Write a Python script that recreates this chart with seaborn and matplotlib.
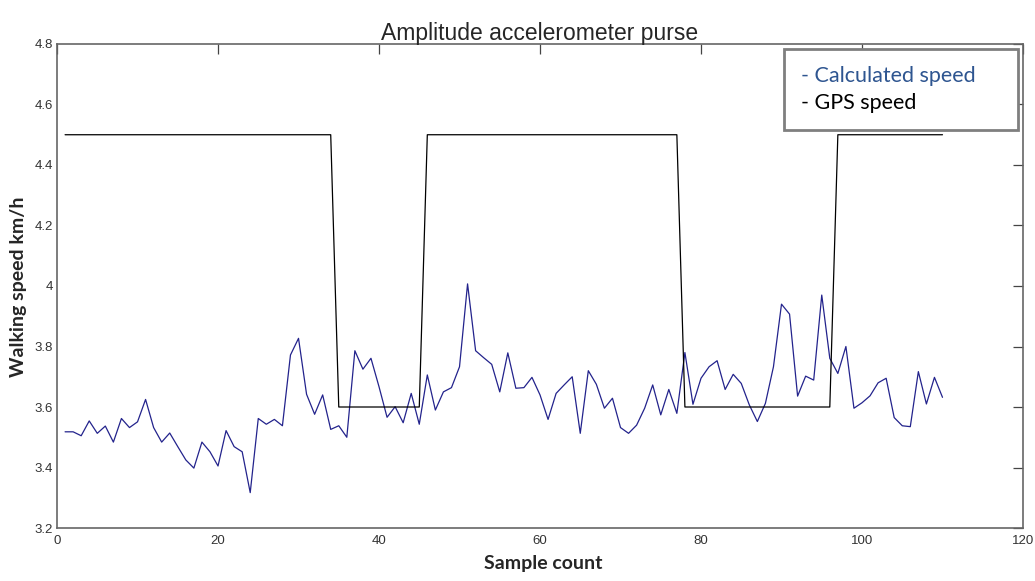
import pandas as pd
import matplotlib
matplotlib.use("Agg")
import matplotlib.pyplot as plt
import seaborn as sns

# samples 1..110, speed estimated from the accelerometer in the purse
sample = list(range(1, 111))
calculated_speed = [
    3.518, 3.518, 3.505, 3.554, 3.513, 3.537, 3.484, 3.562, 3.532, 3.551,
    3.625, 3.532, 3.484, 3.514, 3.469, 3.425, 3.398, 3.484, 3.452, 3.405,
    3.522, 3.469, 3.452, 3.317, 3.562, 3.543, 3.559, 3.538, 3.772, 3.827,
    3.642, 3.576, 3.640, 3.526, 3.538, 3.500, 3.786, 3.725, 3.761, 3.667,
    3.566, 3.601, 3.548, 3.645, 3.543, 3.706, 3.590, 3.650, 3.664, 3.733,
    4.007, 3.786, 3.763, 3.741, 3.650, 3.779, 3.662, 3.664, 3.698, 3.640,
    3.559, 3.645, 3.673, 3.700, 3.513, 3.720, 3.675, 3.596, 3.629, 3.532,
    3.513, 3.540, 3.596, 3.673, 3.574, 3.658, 3.579, 3.780, 3.609, 3.695,
    3.733, 3.753, 3.658, 3.708, 3.678, 3.607, 3.552, 3.612, 3.733, 3.940,
    3.907, 3.636, 3.702, 3.689, 3.970, 3.761, 3.711, 3.800, 3.596, 3.614,
    3.637, 3.680, 3.695, 3.565, 3.538, 3.535, 3.717, 3.610, 3.698, 3.632,
]

# GPS speed is a step signal, given by its corner points
gps_sample = [1, 34, 35, 45, 46, 77, 78, 96, 97, 110]
gps_speed = [4.5, 4.5, 3.6, 3.6, 4.5, 4.5, 3.6, 3.6, 4.5, 4.5]

x_ticks = [0, 20, 40, 60, 80, 100, 120]
y_ticks = [3.2, 3.4, 3.6, 3.8, 4.0, 4.2, 4.4, 4.6, 4.8]
y_tick_labels = ["3.2", "3.4", "3.6", "3.8", "4", "4.2", "4.4", "4.6", "4.8"]

calc = pd.DataFrame({"sample": sample, "speed": calculated_speed})
gps = pd.DataFrame({"sample": gps_sample, "speed": gps_speed})

sns.set_style("white")
plt.rcParams["font.family"] = ["Liberation Sans", "DejaVu Sans"]
label_font = ["Lato", "DejaVu Sans"]

fig = plt.figure(figsize=(10.35, 5.81), dpi=100)
ax = fig.add_axes([0.0551, 0.0912, 0.9333, 0.8331])

blue = "#23238c"
sns.lineplot(data=calc, x="sample", y="speed", ax=ax, color=blue, lw=0.9,
             label="- Calculated speed")
sns.lineplot(data=gps, x="sample", y="speed", ax=ax, color="black", lw=0.9,
             label="- GPS speed")

ax.set_xlim(0, 120)
ax.set_ylim(3.2, 4.8)
ax.set_xticks(x_ticks)
ax.set_xticklabels([str(t) for t in x_ticks])
ax.set_yticks(y_ticks)
ax.set_yticklabels(y_tick_labels)
ax.tick_params(direction="in", top=True, right=True, length=7, width=0.9,
               color="#444444", labelsize=9.5, labelcolor="#333333")
ax.tick_params(axis="y", pad=3)
ax.tick_params(axis="x", pad=5)
for s in ax.spines.values():
    s.set_color("#666666")
    s.set_linewidth(1.2)

ax.set_title("Amplitude accelerometer purse", fontsize=16.5, pad=3)
ax.set_xlabel("Sample count", fontsize=14, fontweight="bold", family=label_font)
ax.set_ylabel("Walking speed km/h", fontsize=14, fontweight="bold", family=label_font)
ax.xaxis.label.set_va("center")
ax.xaxis.set_label_coords(0.503, -0.0723)
ax.yaxis.label.set_va("center")
ax.yaxis.set_label_coords(-0.0404, 0.498)

leg = ax.legend(loc="upper left",
                bbox_to_anchor=(784 / 1035, 1 - 132 / 581, 234 / 1035, 83 / 581),
                bbox_transform=fig.transFigure, mode="expand", borderaxespad=0,
                handlelength=0, handletextpad=0,
                frameon=True, fancybox=False, framealpha=1, borderpad=0.8,
                labelspacing=0.3, labelcolor=["#2e5590", "black"],
                prop={"family": label_font, "size": 15.5})
leg.get_frame().set_edgecolor("#7f7f7f")
leg.get_frame().set_linewidth(2)

fig.savefig("out.png", dpi=100)
